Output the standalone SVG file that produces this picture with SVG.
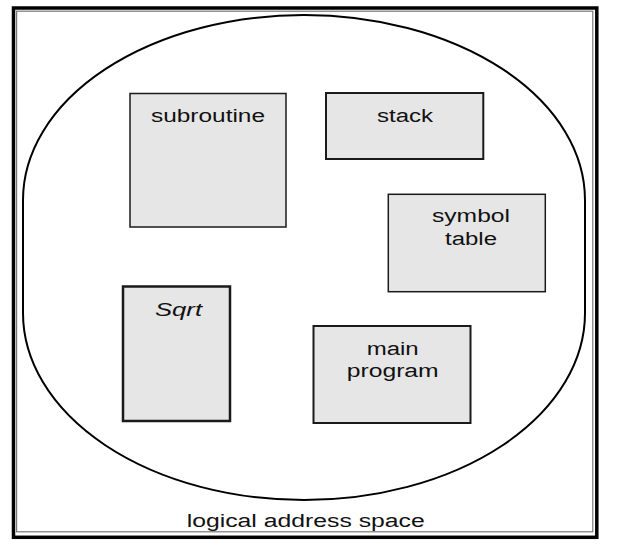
<svg xmlns="http://www.w3.org/2000/svg" width="638" height="549" viewBox="0 0 638 549">
  <style>
    .box { fill: #e6e6e6; stroke: #1a1a1a; }
    .lbl { font-family: "Liberation Sans", Arial, Helvetica, sans-serif; font-size: 18px; fill: #111; }
  </style>
  <rect x="0" y="0" width="638" height="549" fill="#ffffff"/>
  <g id="frame">
    <rect x="13.5" y="8" width="583.3" height="529.3" fill="none" stroke="#000" stroke-width="3.5"/>
    <rect x="16.6" y="11.2" width="576.2" height="520.6" fill="none" stroke="#777" stroke-width="1.2"/>
  </g>
  <g id="address-space">
    <path d="M23,313 L23,200 A281,185 0 0 1 585,200 L585,313 A281,187 0 0 1 23,313 Z" fill="none" stroke="#000" stroke-width="2"/>
    <text class="lbl" x="186.7" y="526.5" textLength="238" lengthAdjust="spacingAndGlyphs">logical address space</text>
  </g>
  <g id="connectors"></g>
  <g id="subroutine">
    <rect class="box" x="130" y="93.5" width="156" height="133.5" stroke-width="1.5"/>
    <text class="lbl" x="151" y="122" textLength="114" lengthAdjust="spacingAndGlyphs">subroutine</text>
  </g>
  <g id="stack">
    <rect class="box" x="326" y="93" width="157.3" height="66" stroke-width="2"/>
    <text class="lbl" x="377" y="121.7" textLength="56" lengthAdjust="spacingAndGlyphs">stack</text>
  </g>
  <g id="symbol-table">
    <rect class="box" x="388.3" y="194.3" width="157" height="97.4" stroke-width="1.5"/>
    <text class="lbl" x="432" y="221.5" textLength="78" lengthAdjust="spacingAndGlyphs">symbol</text>
    <text class="lbl" x="445" y="245" textLength="52" lengthAdjust="spacingAndGlyphs">table</text>
  </g>
  <g id="sqrt">
    <rect class="box" x="123" y="286.5" width="107" height="134.5" stroke-width="2.5"/>
    <text class="lbl" x="155" y="315.5" font-style="italic" textLength="47" lengthAdjust="spacingAndGlyphs">Sqrt</text>
  </g>
  <g id="main-program">
    <rect class="box" x="313.5" y="326" width="157" height="97" stroke-width="2"/>
    <text class="lbl" x="366.7" y="355" textLength="52" lengthAdjust="spacingAndGlyphs">main</text>
    <text class="lbl" x="346.7" y="376.7" textLength="92" lengthAdjust="spacingAndGlyphs">program</text>
  </g>
</svg>
